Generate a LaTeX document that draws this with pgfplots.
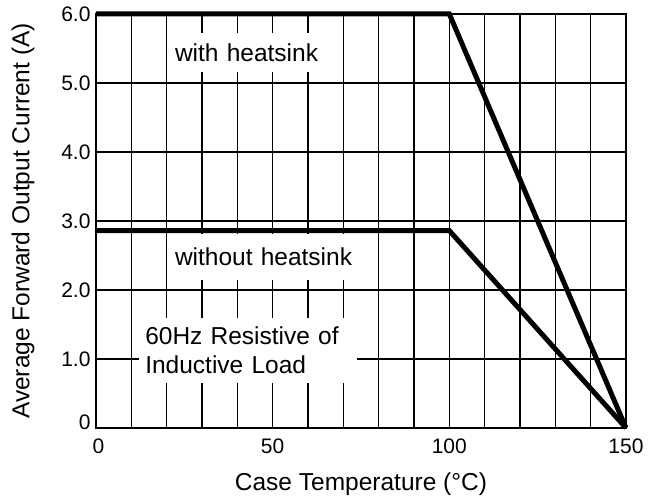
\documentclass[border=0pt]{standalone}
\usepackage{pgfplots}
\pgfplotsset{compat=1.18}
\usepackage{fontspec}
\setmainfont{Liberation Sans}
\begin{document}
\begin{tikzpicture}
\begin{axis}[
  name=ax,
  scale only axis,
  width=530pt, height=414pt,
  xmin=0, xmax=150, ymin=0, ymax=6,
  clip=false,
  axis line style={line width=1.6pt, black},
  xtick={0,50,100,150},
  xticklabels={\hspace*{5pt}0,50,100,150},
  minor xtick={10,20,30,40,60,70,80,90,110,120,130,140},
  ytick={0,1,2,3,4,5,6},
  yticklabels={\raisebox{12pt}{0},1.0,2.0,3.0,4.0,5.0,6.0},
  grid=both,
  major grid style={line width=1.6pt, black},
  minor grid style={line width=1.6pt, black},
  major tick length=0pt, minor tick length=0pt,
  tick label style={font=\fontsize{21}{25}\selectfont, text=black},
  xticklabel style={yshift=-7pt},
  yticklabel style={xshift=-2pt},
  label style={font=\fontsize{24.5}{29}\selectfont},
  xlabel={Case Temperature (°C)},
  ylabel={Average Forward Output Current (A)},
  xlabel style={yshift=-12pt},
  ylabel style={yshift=20pt},
]
\addplot[black, line width=5pt, line join=miter] coordinates {(0,6) (100,6) (150,0)};
\addplot[black, line width=5pt, line join=miter] coordinates {(0,2.86) (100,2.86) (150,0)};
\node[fill=white, anchor=west, align=left, text width=155pt, inner xsep=5pt, inner ysep=10.5pt, font=\fontsize{24.5}{29}\selectfont] at (axis cs:20.9,5.44) {with heatsink};
\node[fill=white, anchor=west, align=left, text width=185pt, inner xsep=5pt, inner ysep=14pt, font=\fontsize{24.5}{29}\selectfont] at (axis cs:20.9,2.48) {without heatsink};
\node[fill=white, anchor=west, align=left, text width=206pt, inner xsep=6pt, inner ysep=9pt, font=\fontsize{24.5}{29}\selectfont] at (axis cs:12.2,1.12) {60Hz Resistive of\\Inductive Load};
\end{axis}
\pgfresetboundingbox
\path[use as bounding box] ([shift={(-96pt,-70pt)}]ax.south west) rectangle ([shift={(22pt,14pt)}]ax.north east);
\end{tikzpicture}
\end{document}
